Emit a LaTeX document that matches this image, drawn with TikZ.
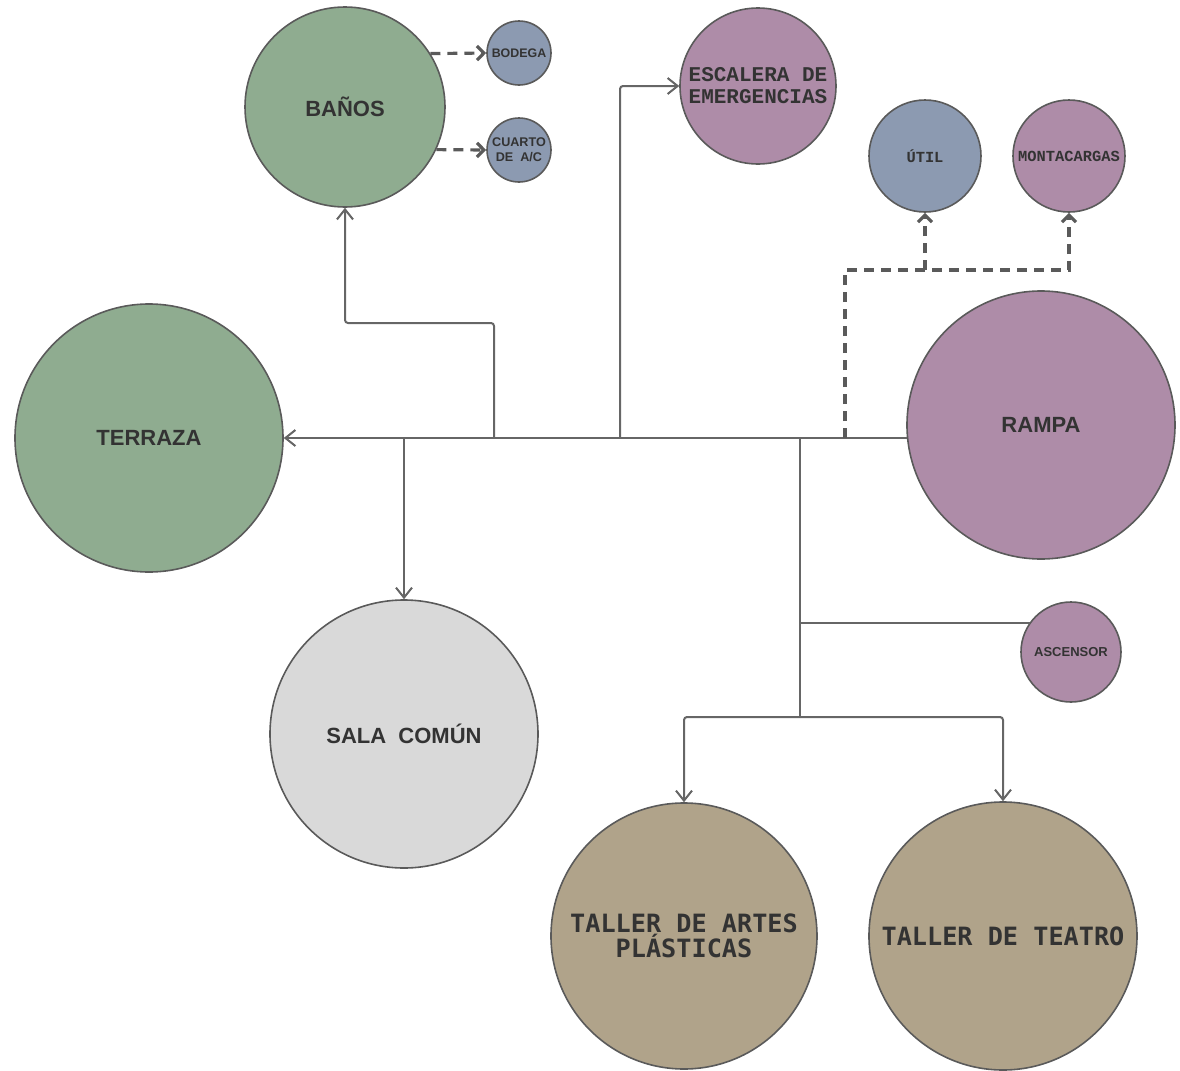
\documentclass[tikz,border=0pt]{standalone}
\usepackage{fontspec}
\setmainfont{Liberation Sans}
\newfontfamily\courierfont{Liberation Mono}
\newfontfamily\monofont{DejaVu Sans Mono}
\usepackage{xcolor}
\usetikzlibrary{arrows.meta}

\definecolor{verde}{HTML}{8FAC90}
\definecolor{morado}{HTML}{AE8CA8}
\definecolor{azul}{HTML}{8C9AB1}
\definecolor{gris}{HTML}{D9D9D9}
\definecolor{arena}{HTML}{B0A38A}
\definecolor{borde}{HTML}{5A5A5A}
\definecolor{linea}{HTML}{666666}
\definecolor{texto}{HTML}{333333}

\tikzset{
  espacio/.style={circle, draw=borde, line width=0.8pt, inner sep=0pt,
    align=center, text=texto},
  conexion/.style={draw=linea, line width=1pt, rounded corners=1.5pt,
    -{Straight Barb[length=5pt,width=8pt]}},
  linea/.style={draw=linea, line width=1pt},
  auxiliar/.style={draw=borde, line width=1.6pt, dash pattern=on 5pt off 3.5pt,
    -{Straight Barb[length=3.5pt,width=7pt,line width=1.6pt]}},
}

\begin{document}
\begin{tikzpicture}[x=0.5pt, y=-0.5pt]
\useasboundingbox (0,0) rectangle (1180,1071);

% espacios
\node[espacio, fill=verde, minimum size=134pt,
      font=\bfseries\fontsize{11}{13}\selectfont] (terraza) at (149,438) {TERRAZA};
\node[espacio, fill=verde, minimum size=100pt,
      font=\bfseries\fontsize{11}{13}\selectfont] (banos) at (345,107) {BAÑOS};
\node[espacio, fill=azul, minimum size=32pt,
      font=\bfseries\fontsize{6.2}{7}\selectfont] (bodega) at (519,53) {BODEGA};
\node[espacio, fill=azul, minimum size=32pt,
      font=\bfseries\fontsize{6.3}{7.4}\selectfont] (cuarto) at (519,150) {CUARTO\\DE\ \ A/C};
\node[espacio, fill=morado, minimum size=78pt,
      font=\courierfont\bfseries\fontsize{10.5}{11}\selectfont] (escalera) at (758,86)
  {ESCALERA DE\\EMERGENCIAS};
\node[espacio, fill=azul, minimum size=56pt,
      font=\courierfont\bfseries\fontsize{7.7}{9}\selectfont] (util) at (925,156) {ÚTIL};
\node[espacio, fill=morado, minimum size=56pt,
      font=\courierfont\bfseries\fontsize{7.7}{9}\selectfont] (montacargas) at (1069,156)
  {MONTACARGAS};
\node[espacio, fill=morado, minimum size=134pt,
      font=\bfseries\fontsize{11}{13}\selectfont] (rampa) at (1041,425) {RAMPA};
\node[espacio, fill=gris, minimum size=134pt,
      font=\bfseries\fontsize{11}{13}\selectfont] (sala) at (404,734) {SALA\ \ COMÚN};
\node[espacio, fill=morado, minimum size=50pt,
      font=\bfseries\fontsize{6.5}{8}\selectfont] (ascensor) at (1071,652) {ASCENSOR};
\node[espacio, fill=arena, minimum size=133pt,
      font=\monofont\bfseries\fontsize{12.6}{12.6}\selectfont] (artes) at (684,936)
  {TALLER DE ARTES\\PLÁSTICAS};
\node[espacio, fill=arena, minimum size=134pt,
      font=\monofont\bfseries\fontsize{12.6}{14}\selectfont] (teatro) at (1003,936)
  {TALLER DE TEATRO};

% puntos de union
\coordinate (uBanos) at (494,438);
\coordinate (uEscalera) at (620,438);
\coordinate (uSala) at (404,438);
\coordinate (uTalleres) at (800,438);
\coordinate (uAscensor) at (800,623);
\coordinate (uAbajo) at (800,717);
\coordinate (uServicio) at (845,438);
\coordinate (uUtil) at (925,270);

% circulacion principal
\draw[conexion] (rampa.185.6 |- terraza.east) -- (terraza.east);
\draw[conexion] (uBanos) -- ++(0,-115) -| (banos.south);
\draw[conexion] (uEscalera) |- (escalera.west);
\draw[conexion] (uSala) -- (sala.north);
\draw[linea] (uTalleres) -- (uAbajo);
\draw[linea] (uAscensor) -- (uAscensor -| ascensor.144.5);
\draw[conexion] (uAbajo) -| (artes.north);
\draw[conexion] (uAbajo) -| (teatro.north);

% circulacion de servicio
\draw[auxiliar] (uServicio) |- (uUtil) -| (montacargas.south);
\draw[auxiliar] (uUtil) -- (util.south);
\draw[auxiliar] (banos.32.7) -- (bodega.west);
\draw[auxiliar] (banos.-25.5) -- (cuarto.west);
\end{tikzpicture}
\end{document}
